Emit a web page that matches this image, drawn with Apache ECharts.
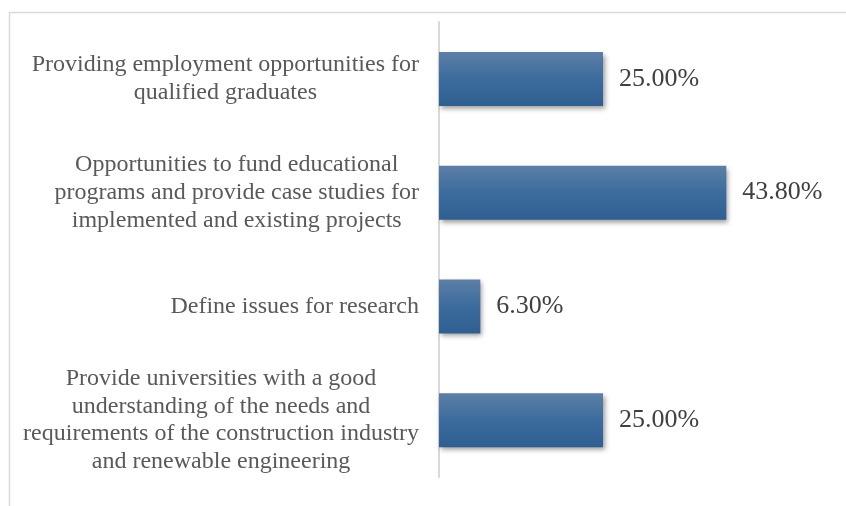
<!DOCTYPE html>
<html>
<head>
<meta charset="utf-8">
<style>
  html, body { margin: 0; padding: 0; background: #ffffff; }
  #chart { width: 846px; height: 506px; }
</style>
<script src="https://cdn.jsdelivr.net/npm/echarts@6/dist/echarts.min.js"></script>
</head>
<body>
<div id="chart"></div>
<script>
// Survey responses: share of respondents per option (percent)
const categories = [
  'Providing employment opportunities for\nqualified graduates',
  'Opportunities to fund educational\nprograms and provide case studies for\nimplemented and existing projects',
  'Define issues for research',
  'Provide universities with a good\nunderstanding of the needs and\nrequirements of the construction industry\nand renewable engineering'
];
const shares = [25.0, 43.8, 6.3, 25.0];

const chart = echarts.init(document.getElementById('chart'));

const barFill = new echarts.graphic.LinearGradient(0, 0, 0, 1, [
  { offset: 0, color: '#5d7fa6' },
  { offset: 0.5, color: '#3b6c9d' },
  { offset: 1, color: '#2f5f91' }
]);

chart.setOption({
  backgroundColor: '#ffffff',
  animation: false,
  graphic: [{
    type: 'rect',
    shape: { x: 9.5, y: 12.5, width: 1000, height: 1000 },
    style: { fill: 'none', stroke: '#d9d9d9', lineWidth: 1.5 },
    silent: true
  }],
  grid: { left: 439, right: 79, top: 22, bottom: 29 },
  xAxis: {
    type: 'value',
    min: 0,
    max: 50,
    show: false
  },
  yAxis: {
    type: 'category',
    data: categories,
    inverse: true,
    axisLine: { show: true, lineStyle: { color: '#d9d9d9', width: 2 } },
    axisTick: { show: false },
    axisLabel: {
      margin: 20,
      fontFamily: 'Liberation Serif',
      fontSize: 24,
      color: '#595959',
      lineHeight: 27.7,
      align: 'right',
      formatter: function (value) {
        return value.split('\n').map(function (s) { return '{c|' + s + '}'; }).join('\n');
      },
      rich: {
        c: {
          align: 'center',
          fontFamily: 'Liberation Serif',
          fontSize: 24,
          lineHeight: 27.7,
          color: '#595959'
        }
      }
    }
  },
  series: [{
    type: 'bar',
    data: shares,
    barWidth: 54,
    itemStyle: {
      color: barFill,
      shadowColor: 'rgba(0,0,0,0.4)',
      shadowBlur: 5,
      shadowOffsetX: 2,
      shadowOffsetY: 3
    },
    label: {
      show: true,
      position: 'right',
      distance: 16,
      fontFamily: 'Liberation Serif',
      fontSize: 26,
      color: '#404040',
      formatter: function (p) { return p.value.toFixed(2) + '%'; }
    }
  }]
});
</script>
</body>
</html>
